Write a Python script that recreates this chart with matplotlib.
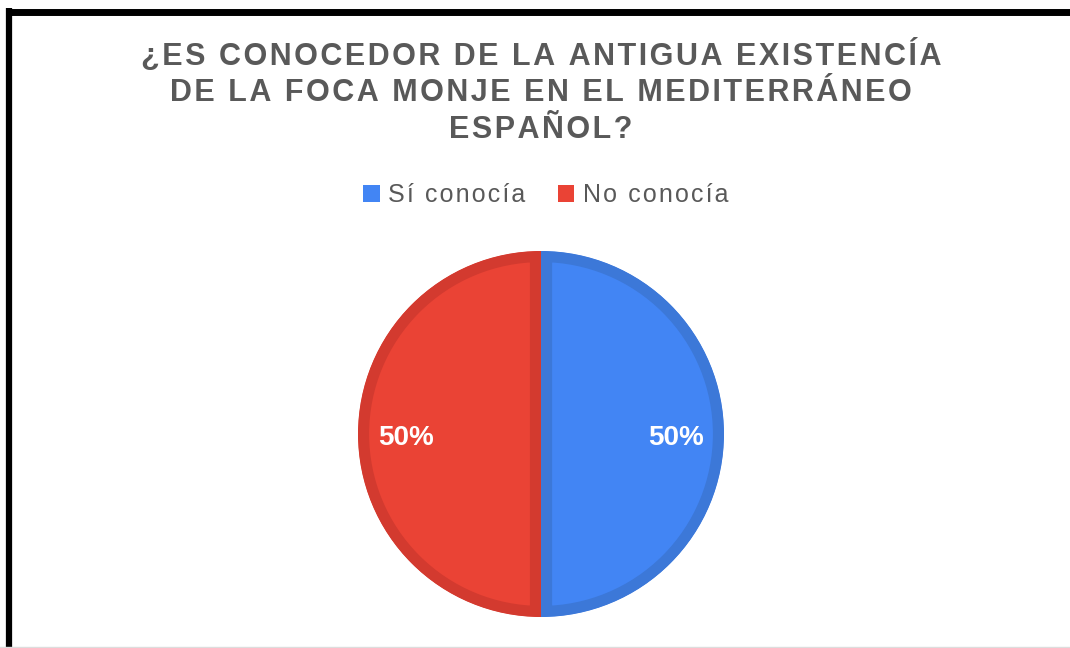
import matplotlib.pyplot as plt
from matplotlib.patches import Wedge

# data
labels = ["Sí conocía", "No conocía"]
values = [50, 50]
colors = ["#4285F4", "#EA4335"]
edge_colors = ["#3C78D8", "#D33A2F"]
title_lines = ["¿ES CONOCEDOR DE LA ANTIGUA EXISTENCÍA",
               "DE LA FOCA MONJE EN EL MEDITERRÁNEO",
               "ESPAÑOL?"]


def spaced(s):
    # fake letter spacing with hair spaces
    return "\u200a".join(s)


W, H = 1070, 648
fig = plt.figure(figsize=(W / 100, H / 100), dpi=100)
plt.rcParams['font.family'] = ['Liberation Sans', 'DejaVu Sans']

# frame lines (black top/left, light bottom)
fig.add_artist(plt.Line2D([6 / W, 1], [1 - 11.5 / H, 1 - 11.5 / H], color="black", lw=5,
                          solid_capstyle="butt"))
fig.add_artist(plt.Line2D([9 / W, 9 / W], [0, 1 - 8 / H], color="black", lw=4.5,
                          solid_capstyle="butt"))
fig.add_artist(plt.Line2D([0, 1], [1.5 / H, 1.5 / H], color="#dddddd", lw=1))

# title
for i, line in enumerate(title_lines):
    fig.text(541 / W, 1 - (56 + 37 * i) / H, spaced(line), ha="center", va="center",
             fontsize=22, fontweight="bold", color="#595959")

# pie
cx, cy, r = 541, 434, 183
ax = fig.add_axes([(cx - r) / W, (H - cy - r) / H, 2 * r / W, 2 * r / H])
wedges, texts, autotexts = ax.pie(values, colors=colors, startangle=90, counterclock=False,
                                  autopct="%1.0f%%", pctdistance=0.74, radius=1,
                                  textprops=dict(color="white", fontsize=20, fontweight="bold"))
ax.set_xlim(-1, 1)
ax.set_ylim(-1, 1)
ax.set_aspect("equal")
ax.axis("off")
for w, ec in zip(wedges, edge_colors):
    w.set_edgecolor(ec)
    w.set_linewidth(16)
    clip = Wedge((0, 0), 1, w.theta1, w.theta2, transform=ax.transData)
    w.set_clip_on(True)
    w.set_clip_path(clip)
for t in autotexts:
    x, y = t.get_position()
    t.set_position((x, y - 4 / r))

# legend
leg = fig.legend(wedges, [spaced(l) for l in labels], loc="center",
                 bbox_to_anchor=(546 / W, 1 - 195 / H),
                 ncol=2, frameon=False, fontsize=18, handlelength=0.65, handleheight=0.65,
                 handletextpad=0.35, columnspacing=1.3, labelcolor="#595959")
for h in leg.legend_handles:
    h.set_edgecolor("none")
    h.set_linewidth(0)
    h.set_clip_path(None)

fig.savefig("out.png", dpi=100)
